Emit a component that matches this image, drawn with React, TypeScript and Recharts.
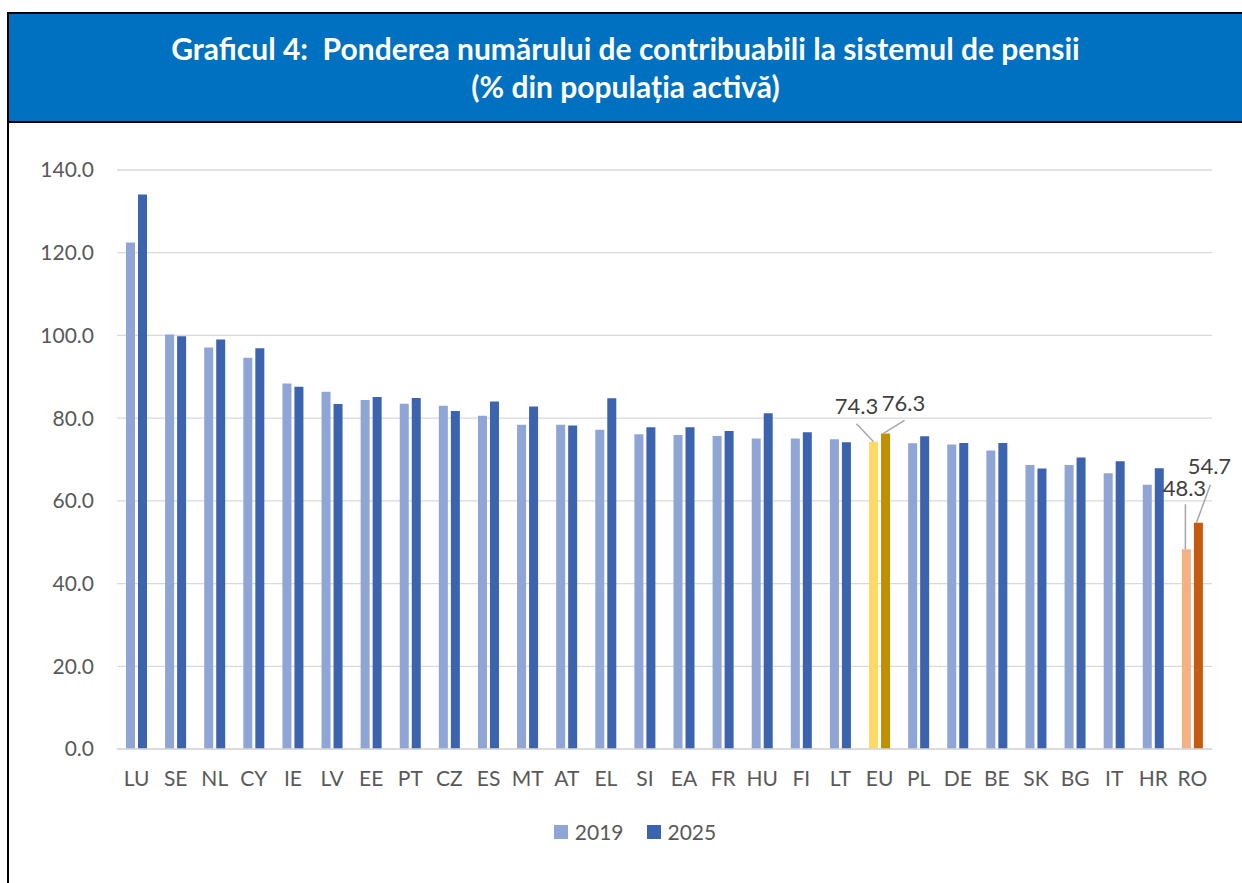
import { BarChart, Bar, XAxis, YAxis, CartesianGrid, Legend, Cell, LabelList } from 'recharts'

const countries = ['LU', 'SE', 'NL', 'CY', 'IE', 'LV', 'EE', 'PT', 'CZ', 'ES', 'MT', 'AT', 'EL', 'SI', 'EA', 'FR', 'HU', 'FI', 'LT', 'EU', 'PL', 'DE', 'BE', 'SK', 'BG', 'IT', 'HR', 'RO']
const values2019 = [122.5, 100.2, 97.1, 94.6, 88.4, 86.4, 84.4, 83.5, 83.0, 80.6, 78.4, 78.4, 77.2, 76.1, 75.9, 75.7, 75.1, 75.1, 74.9, 74.3, 73.9, 73.6, 72.2, 68.7, 68.7, 66.7, 63.9, 48.3]
const values2025 = [134.1, 99.8, 99.0, 96.9, 87.6, 83.4, 85.1, 84.9, 81.7, 84.0, 82.8, 78.2, 84.8, 77.8, 77.8, 76.9, 81.2, 76.6, 74.2, 76.3, 75.6, 74.0, 74.0, 67.8, 70.5, 69.6, 67.9, 54.7]
const yTicks = [0, 20, 40, 60, 80, 100, 120, 140]
const seriesNames = ['2019', '2025']

const FONT = 'Lato, "Open Sans", sans-serif'
const GREY = '#595959'

const colors2019: Record<string, string> = { EU: '#FFD966', RO: '#F4B183' }
const colors2025: Record<string, string> = { EU: '#BF9000', RO: '#C55A11' }
const base2019 = '#8FA5D5'
const base2025 = '#3C64AE'

// leader-line callouts: line start offset (from bar top centre), line end and text centre
const callouts2019: Record<string, { sx: number; lx: number; ly: number; tx: number; ty: number }> = {
  EU: { sx: 0, lx: -17, ly: -18, tx: -17, ty: -36 },
  RO: { sx: -1, lx: -1, ly: -45, tx: -2, ty: -62 },
}
const callouts2025: Record<string, { sx: number; lx: number; ly: number; tx: number; ty: number }> = {
  EU: { sx: -2, lx: 19, ly: -13, tx: 18, ty: -31 },
  RO: { sx: -2, lx: 12, ly: -38, tx: 11, ty: -57 },
}

const data = countries.map((c, i) => ({ country: c, y2019: values2019[i], y2025: values2025[i] }))

function makeCallout(map: typeof callouts2019) {
  return (props: any) => {
    const { x, y, width, index, value } = props
    const c = map[countries[index]]
    if (!c) return null
    const cx = Number(x) + Number(width) / 2
    const top = Number(y)
    return (
      <g>
        <line x1={cx + c.sx} y1={top} x2={cx + c.lx} y2={top + c.ly} stroke="#A6A6A6" strokeWidth={1.5} />
        <text x={cx + c.tx} y={top + c.ty} textAnchor="middle" dominantBaseline="central" fontFamily={FONT} fontSize={22} fill="#404040">
          {Number(value).toFixed(1)}
        </text>
      </g>
    )
  }
}

function LegendContent() {
  const items = [
    { name: seriesNames[0], color: base2019 },
    { name: seriesNames[1], color: base2025 },
  ]
  return (
    <div style={{ display: 'flex', justifyContent: 'center', alignItems: 'center', fontFamily: FONT, fontSize: 21, color: GREY }}>
      {items.map((it, i) => (
        <div key={it.name} style={{ display: 'flex', alignItems: 'center', marginLeft: i ? 23 : 0 }}>
          <span style={{ display: 'inline-block', width: 14, height: 14, background: it.color, marginRight: 7 }} />
          <span>{it.name}</span>
        </div>
      ))}
    </div>
  )
}

export default function App() {
  return (
    <div style={{ position: 'fixed', left: 0, top: 0, width: 1242, height: 883, background: '#fff', overflow: 'hidden' }}>
      <div style={{ position: 'absolute', left: 7, top: 12, width: 1300, height: 900, borderLeft: '2px solid #000', borderTop: '2px solid #000' }}>
        <div style={{ height: 109, background: '#0070C0', borderBottom: '2px solid #000', color: '#fff', fontFamily: FONT, fontWeight: 700, fontSize: 30, textAlign: 'center', width: 1233, paddingTop: 15, boxSizing: 'border-box', lineHeight: '38px' }}>
          <div>Graficul 4:&nbsp; Ponderea numărului de contribuabili la sistemul de pensii</div>
          <div>(% din populația activă)</div>
        </div>
      </div>
      <div style={{ position: 'absolute', left: 0, top: 0 }}>
        <BarChart width={1242} height={883} data={data} margin={{ top: 170, right: 30, left: 0, bottom: 20 }} barSize={9} barGap={3}>
          <CartesianGrid vertical={false} stroke="#D9D9D9" strokeWidth={1.3} />
          <XAxis
            dataKey="country"
            height={89}
            tickLine={false}
            tickSize={0}
            tickMargin={22}
            axisLine={{ stroke: '#D9D9D9', strokeWidth: 1.5 }}
            interval={0}
            tick={{ fontFamily: FONT, fontSize: 21, fill: GREY }}
          />
          <YAxis
            width={117}
            domain={[0, 140]}
            ticks={yTicks}
            tickLine={false}
            axisLine={false}
            tickSize={0}
            tickMargin={23}
            tickFormatter={(v: number) => v.toFixed(1)}
            tick={{ fontFamily: FONT, fontSize: 21, fill: GREY }}
          />
          <Legend content={<LegendContent />} wrapperStyle={{ top: 819, bottom: 'auto', left: 0, width: 1270 }} />
          <Bar dataKey="y2019" name={seriesNames[0]} fill={base2019} isAnimationActive={false}>
            {data.map(d => (
              <Cell key={d.country} fill={colors2019[d.country] || base2019} />
            ))}
            <LabelList dataKey="y2019" content={makeCallout(callouts2019)} />
          </Bar>
          <Bar dataKey="y2025" name={seriesNames[1]} fill={base2025} isAnimationActive={false}>
            {data.map(d => (
              <Cell key={d.country} fill={colors2025[d.country] || base2025} />
            ))}
            <LabelList dataKey="y2025" content={makeCallout(callouts2025)} />
          </Bar>
        </BarChart>
      </div>
    </div>
  )
}
